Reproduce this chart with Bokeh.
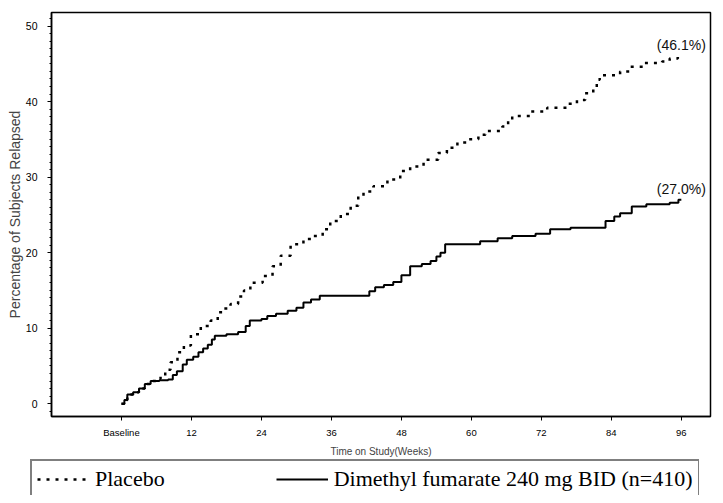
from bokeh.plotting import figure
from bokeh.layouts import column
from bokeh.models import (Range1d, FixedTicker, SingleIntervalTicker, Legend,
                          LegendItem, ColumnDataSource)
from bokeh.core.properties import value
from bokeh.embed import file_html
from bokeh.resources import INLINE

# ---- data (cumulative % relapsed, step after) ----
placebo_weeks = [0, 0.5, 1, 2, 3, 4, 5, 6, 6.7, 7.5, 8.4, 9.6, 10.7, 11.9, 13.6,
                 15.3, 16.5, 17.5, 18.7, 20, 21, 22.1, 24.2, 25.9, 27.3, 29, 31.2,
                 32.8, 34.5, 35.8, 37.6, 39.3, 40.6, 41.5, 43.2, 45.6, 47.8, 49.5,
                 51.8, 54.3, 55.8, 57.6, 59.3, 61.2, 62.4, 65.3, 66.3, 67, 70.1, 73,
                 76.4, 78.1, 79.5, 80.9, 81.5, 82, 85.5, 87.2, 89.4, 92.7, 94, 95.4, 96]
placebo_pct = [0, 0.5, 1.2, 1.5, 2.0, 2.6, 3.0, 3.3, 3.7, 4.5, 5.5, 6.8, 7.7, 9.2, 10.3,
               11.0, 12.1, 12.6, 13.2, 14.2, 15.0, 16.0, 16.9, 18.2, 19.6, 21.1, 21.8,
               22.2, 23.1, 24.2, 25.1, 26.2, 27.5, 28.1, 28.8, 29.7, 30.8, 31.4,
               32.3, 33.2, 33.9, 34.6, 35.0, 35.6, 36.1, 36.7, 37.4, 38.1, 38.7, 39.2,
               39.7, 40.2, 41.1, 41.8, 42.9, 43.5, 44.0, 44.6, 45.1, 45.3, 45.7, 46.1, 46.1]

dmf_weeks = [0, 0.5, 1, 2, 3, 4, 5, 6.5, 8, 8.8, 9.5, 10.5, 11.2, 12.3, 13.2, 14,
             14.8, 15.5, 16, 18, 20, 21.3, 22, 24, 25, 26.5, 28.5, 30, 31.2, 32.5,
             34, 42.5, 43.5, 45, 46.6, 48, 49.5, 51.5, 53, 54, 54.7, 55.5, 61.5,
             64.5, 67, 71, 73.5, 77, 83, 84.5, 85.5, 87.5, 90, 94, 95.5, 96]
dmf_pct = [0, 0.5, 1.2, 1.5, 2.0, 2.6, 3.0, 3.1, 3.2, 3.8, 4.3, 5.2, 5.8, 6.2, 6.8, 7.3,
           7.8, 8.5, 9.0, 9.2, 9.5, 10.3, 11.0, 11.2, 11.6, 11.9, 12.3, 12.7, 13.4, 13.8,
           14.3, 14.9, 15.4, 15.7, 16.1, 17.0, 18.2, 18.5, 18.9, 19.5, 20.0, 21.1, 21.5,
           21.9, 22.2, 22.5, 23.1, 23.3, 24.2, 24.8, 25.2, 26.1, 26.4, 26.6, 27.0, 27.0]

end_weeks = [96, 96]
end_pct = [46.1, 27.0]
end_labels = ["(46.1%)", "(27.0%)"]

x_ticks = [0, 12, 24, 36, 48, 60, 72, 84, 96]
x_tick_labels = ["Baseline", "12", "24", "36", "48", "60", "72", "84", "96"]

series_names = ["Placebo", "Dimethyl fumarate 240 mg BID (n=410)"]

src_pl = ColumnDataSource(dict(w=placebo_weeks, v=placebo_pct))
src_dmf = ColumnDataSource(dict(w=dmf_weeks, v=dmf_pct))

PL_STYLE = dict(line_color="black", line_width=2.5, line_dash="3 6")
DMF_STYLE = dict(line_color="black", line_width=2)

# ---- main chart ----
p = figure(width=715, height=459,
           x_range=Range1d(-12, 101), y_range=Range1d(-1.7, 51.8),
           output_backend="svg", toolbar_location=None,
           min_border_left=51, min_border_right=5,
           min_border_top=12, min_border_bottom=41)
p.frame_align = False
p.background_fill_color = "white"
p.border_fill_color = "white"
p.outline_line_color = "black"
p.outline_line_width = 1.5
p.xgrid.visible = False
p.ygrid.visible = False

p.step(x="w", y="v", source=src_pl, mode="after", **PL_STYLE)
p.step(x="w", y="v", source=src_dmf, mode="after", **DMF_STYLE)

p.text(x="w", y="v", text="t",
       source=ColumnDataSource(dict(w=end_weeks, v=end_pct, t=end_labels)),
       text_font=value("Liberation Sans"), text_font_size=value("14px"),
       text_align="center", text_baseline="middle", y_offset=-11,
       text_color="#111111")

xa = p.xaxis[0]
xa.ticker = FixedTicker(ticks=x_ticks)
xa.major_label_overrides = {t: l for t, l in zip(x_ticks, x_tick_labels)}
xa.minor_tick_line_color = None
xa.major_tick_out = 4
xa.major_tick_in = 0
xa.major_label_standoff = 6
xa.major_label_text_font = "Liberation Sans"
xa.major_label_text_font_size = "9.5px"
xa.major_label_text_color = "black"
xa.axis_label = "Time on Study(Weeks)"
xa.axis_label_text_font = "Liberation Sans"
xa.axis_label_text_font_size = "10px"
xa.axis_label_text_font_style = "normal"
xa.axis_label_standoff = 5
xa.axis_line_color = "black"
xa.axis_line_width = 1.5

ya = p.yaxis[0]
ya.ticker = SingleIntervalTicker(interval=10, num_minor_ticks=10)
ya.major_tick_out = 4
ya.major_tick_in = 0
ya.minor_tick_out = 2
ya.minor_tick_in = 0
ya.major_label_standoff = 10
ya.major_label_text_font = "Liberation Sans"
ya.major_label_text_font_size = "10.5px"
ya.major_label_text_color = "black"
ya.axis_label = "Percentage of Subjects Relapsed"
ya.axis_label_text_font = "Liberation Sans"
ya.axis_label_text_font_size = "14px"
ya.axis_label_text_font_style = "normal"
ya.axis_label_standoff = 0
ya.axis_line_color = "black"
ya.axis_line_width = 1.5

# ---- legend strip below the chart (box runs off the right edge) ----
lg = figure(width=699, height=36, x_range=Range1d(-12, 101), y_range=Range1d(-1.7, 51.8),
            output_backend="svg", toolbar_location=None,
            x_axis_location=None, y_axis_location=None,
            min_border_left=0, min_border_right=0, min_border_top=0, min_border_bottom=0)
lg.frame_align = False
lg.outline_line_color = None
lg.xgrid.visible = False
lg.ygrid.visible = False
lg.background_fill_color = "white"
lg.border_fill_color = "white"
k_pl = lg.step(x="w", y="v", source=src_pl, mode="after", visible=False, **PL_STYLE)
k_dmf = lg.step(x="w", y="v", source=src_dmf, mode="after", visible=False, **DMF_STYLE)

legend = Legend(items=[LegendItem(label=series_names[0], renderers=[k_pl]),
                       LegendItem(label=series_names[1], renderers=[k_dmf])],
                orientation="horizontal", location=(30, -4),
                label_text_font="Liberation Serif", label_text_font_size="22px",
                label_text_color="black",
                glyph_width=52, label_standoff=6, spacing=111, padding=5,
                label_height=24, margin=0,
                border_line_color="black", border_line_width=2,
                background_fill_color="white", background_fill_alpha=1)
lg.add_layout(legend)

open("out.html", "w").write(file_html(column(p, lg, spacing=0), INLINE))
